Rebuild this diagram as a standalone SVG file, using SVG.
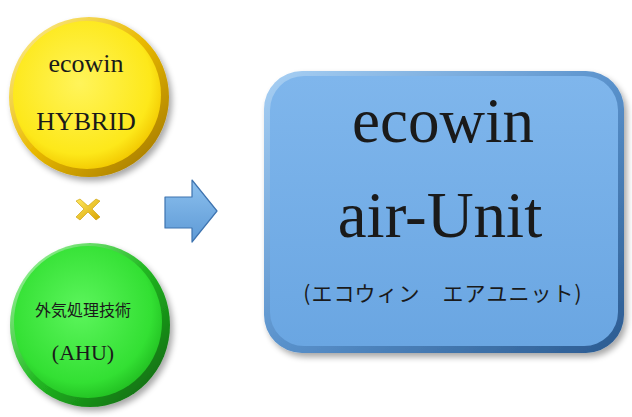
<svg xmlns="http://www.w3.org/2000/svg" width="632" height="417" viewBox="0 0 632 417">
<defs>
<radialGradient id="gy" cx="0.45" cy="0.42" r="0.6">
<stop offset="0" stop-color="#fff45a"/>
<stop offset="0.8" stop-color="#fde81a"/>
<stop offset="1" stop-color="#f2c800"/>
</radialGradient>
<linearGradient id="ry" x1="0" y1="0" x2="1" y2="1">
<stop offset="0" stop-color="#fff3a0"/>
<stop offset="0.5" stop-color="#e8b800"/>
<stop offset="1" stop-color="#9a7000"/>
</linearGradient>
<radialGradient id="gg" cx="0.45" cy="0.42" r="0.6">
<stop offset="0" stop-color="#5cf55c"/>
<stop offset="0.8" stop-color="#33e033"/>
<stop offset="1" stop-color="#22c022"/>
</radialGradient>
<linearGradient id="rg" x1="0" y1="0" x2="1" y2="1">
<stop offset="0" stop-color="#b0ffb0"/>
<stop offset="0.5" stop-color="#22b822"/>
<stop offset="1" stop-color="#0b5a0b"/>
</linearGradient>
<linearGradient id="gb" x1="0" y1="0" x2="0" y2="1">
<stop offset="0" stop-color="#7fb6ec"/>
<stop offset="1" stop-color="#6aa6e2"/>
</linearGradient>
<linearGradient id="rb" x1="0" y1="0" x2="1" y2="1">
<stop offset="0" stop-color="#a8d0f4"/>
<stop offset="0.5" stop-color="#5a92cc"/>
<stop offset="1" stop-color="#2a5a90"/>
</linearGradient>
<linearGradient id="ga" x1="0" y1="0" x2="0" y2="1">
<stop offset="0" stop-color="#8cc0ee"/>
<stop offset="1" stop-color="#5e9ad6"/>
</linearGradient>
<linearGradient id="gx" x1="0" y1="0" x2="1" y2="1">
<stop offset="0" stop-color="#ffe860"/>
<stop offset="1" stop-color="#d9a400"/>
</linearGradient>
<filter id="sh" x="-10%" y="-10%" width="130%" height="130%">
<feGaussianBlur in="SourceAlpha" stdDeviation="3"/>
<feOffset dx="3" dy="4" result="b"/>
<feComponentTransfer><feFuncA type="linear" slope="0.35"/></feComponentTransfer>
<feMerge><feMergeNode/><feMergeNode in="SourceGraphic"/></feMerge>
</filter>
</defs>
<style>
.ser{font-family:"Liberation Serif","Noto Sans CJK JP",serif;fill:#1a1a1a;text-anchor:middle}
.cjk{font-family:"Noto Sans CJK JP",sans-serif;fill:#1a1a1a;text-anchor:middle}
</style>
<rect width="632" height="417" fill="#ffffff"/>
<g id="hybrid">
<circle cx="89" cy="97" r="80" fill="url(#ry)" filter="url(#sh)"/>
<circle cx="87" cy="95" r="74" fill="url(#gy)"/>
<text class="ser" x="86" y="72" font-size="26">ecowin</text>
<text class="ser" x="86" y="130" font-size="26">HYBRID</text>
</g>
<g id="cross">
<path d="M76,201 L80,199 L88,206 L96,199 L100,201 L92,209 L100,217 L96,220 L88,212 L80,220 L76,217 L84,209 Z" fill="url(#gx)" stroke="#c89a00" stroke-width="0.6"/>
</g>
<g id="ahu">
<ellipse cx="90" cy="325" rx="80" ry="82" fill="url(#rg)" filter="url(#sh)"/>
<ellipse cx="88" cy="322" rx="74" ry="76" fill="url(#gg)"/>
<text class="cjk" x="83" y="316" font-size="16">外気処理技術</text>
<text class="ser" x="83" y="360" font-size="22">(AHU)</text>
</g>
<g id="connectors">
<path d="M165,197 L192,197 L192,180 L217,211 L192,242 L192,228 L165,228 Z" fill="url(#ga)" stroke="#3e74b0" stroke-width="1.2" stroke-linejoin="round"/>
</g>
<g id="airunit">
<rect x="264" y="71" width="360" height="282" rx="38" fill="url(#rb)" filter="url(#sh)"/>
<rect x="270" y="76" width="348" height="270" rx="34" fill="url(#gb)"/>
<text class="ser" x="443" y="142" font-size="63">ecowin</text>
<text class="ser" x="440" y="237" font-size="65">air-Unit</text>
<text class="cjk" x="443" y="301" font-size="21" letter-spacing="1">(エコウィン　エアユニット)</text>
</g>
</svg>
